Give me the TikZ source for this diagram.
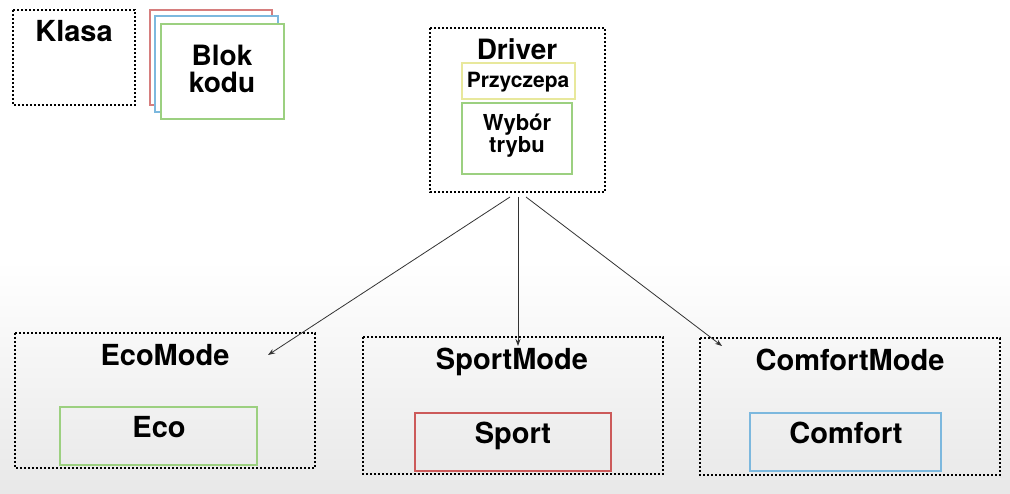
\documentclass[tikz,border=0pt]{standalone}
\usepackage{fontspec}
\setmainfont{TeX Gyre Heros}
\usetikzlibrary{arrows.meta}
\definecolor{cred}{HTML}{D67E7E}
\definecolor{cblue}{HTML}{7CB8DE}
\definecolor{cgreen}{HTML}{9CD080}
\definecolor{cyel}{HTML}{E8E89C}
\definecolor{csred}{HTML}{CC5A5A}
\definecolor{cline}{HTML}{333333}
\tikzset{
  dotbox/.style={draw=black, line width=2.5pt, dash pattern=on 2.2pt off 1.8pt},
  inbox/.style={line width=1.05pt},
  lbl/.style={font=\bfseries, inner sep=0pt, anchor=base},
  lbl2/.style={inner sep=0pt, anchor=center, align=center},
  conn/.style={draw=cline, line width=0.8pt, -{Stealth[length=7pt,width=5pt]}},
}
\begin{document}
\begin{tikzpicture}[x=1pt,y=-1pt]
\useasboundingbox (0,0) rectangle (1010,494);
\fill[white] (0,0) rectangle (1010,494);
\shade[top color=white, bottom color=black!9] (0,260) rectangle (1010,494);

% legend
\draw[dotbox] (13,10) rectangle (135,105);
\node[lbl, font=\fontsize{29}{29}\bfseries] (klasa) at (74,42) {Klasa};
\draw[inbox, draw=cred, fill=white] (150,10) rectangle (272,105);
\draw[inbox, draw=cblue, fill=white] (155,16) rectangle (278,112);
\draw[inbox, draw=cgreen, fill=white] (161,24) rectangle (284,119);
\node[lbl2, font=\fontsize{28}{27}\bfseries] (blok) at (222,69) {Blok\\kodu};

% driver
\draw[dotbox] (430,28) rectangle (605,192);
\node[lbl, font=\fontsize{28}{28}\bfseries] (driver) at (517,60) {Driver};
\draw[inbox, draw=cyel] (462,63) rectangle (575,99);
\node[lbl, font=\fontsize{21}{21}\bfseries] (przy) at (518,88) {Przyczepa};
\draw[inbox, draw=cgreen] (462,103) rectangle (572,174);
\node[lbl2, font=\fontsize{22}{22}\bfseries] (wyb) at (517,136) {Wybór\\trybu};

% modes
\draw[dotbox] (15,333) rectangle (315,468);
\node[lbl, font=\fontsize{29}{29}\bfseries] (ecomode) at (165,366) {EcoMode};
\draw[inbox, draw=cgreen] (60,407) rectangle (257,465);
\node[lbl, font=\fontsize{29}{29}\bfseries] (eco) at (159,438) {Eco};

\draw[dotbox] (363,337) rectangle (663,474);
\node[lbl, font=\fontsize{29}{29}\bfseries] (sportmode) at (512,370) {SportMode};
\draw[inbox, draw=csred] (415,413) rectangle (611,471);
\node[lbl, font=\fontsize{29}{29}\bfseries] (sport) at (513,443) {Sport};

\draw[dotbox] (700,338) rectangle (1000,475);
\node[lbl, font=\fontsize{29}{29}\bfseries] (comfortmode) at (850,371) {ComfortMode};
\draw[inbox, draw=cblue] (750,413) rectangle (941,471);
\node[lbl, font=\fontsize{29}{29}\bfseries] (comfort) at (846,443) {Comfort};

% connectors
\coordinate (s1) at (510,197);
\coordinate (s2) at (518,197);
\coordinate (s3) at (526,197);
\coordinate (e1) at (268,355);
\coordinate (e2) at (518,346);
\coordinate (e3) at (722,346);
\draw[conn] (s1) -- (e1);
\draw[conn] (s2) -- (e2);
\draw[conn] (s3) -- (e3);
\end{tikzpicture}
\end{document}
